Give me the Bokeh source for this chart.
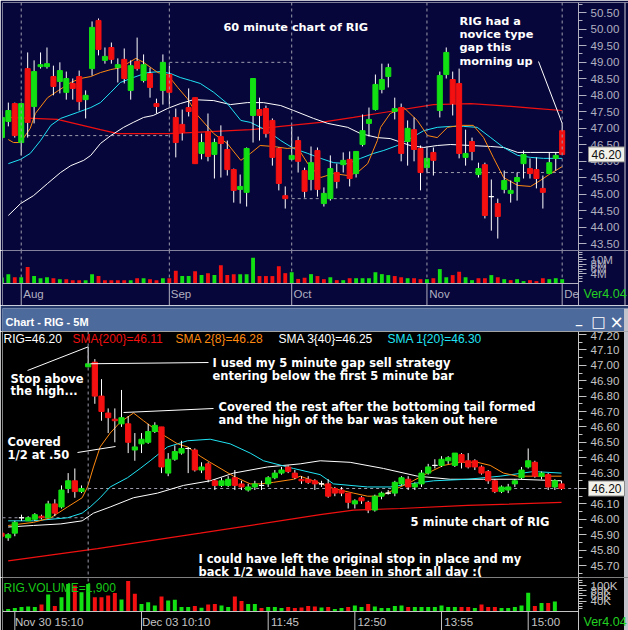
import numpy as np
from bokeh.plotting import figure
from bokeh.layouts import column
from bokeh.models import (ColumnDataSource, Range1d, FixedTicker, Span, Label, Arrow,
                          PrintfTickFormatter, BoxAnnotation)
from bokeh.embed import file_html
from bokeh.resources import INLINE

# ================= DATA: top chart (daily bars, 27 Jul .. 3 Dec) =================
d_open = [46.71, 47.20, 47.74, 46.56, 48.80, 47.65, 48.86, 48.86, 48.56, 48.41,
          48.08, 48.35, 48.56, 47.86, 48.80, 50.26, 49.05, 49.44, 48.83, 49.08,
          48.14, 49.02, 48.44, 48.65, 47.74, 48.14, 48.62, 47.32, 47.11, 47.62,
          47.92, 46.23, 46.89, 46.20, 46.74, 46.35, 45.74, 45.14, 45.05, 47.38,
          47.56, 47.59, 47.23, 46.38, 44.95, 46.05, 46.62, 45.71, 45.44, 46.32,
          44.71, 44.86, 45.65, 45.89, 46.05, 45.62, 46.50, 47.14, 47.56, 48.17,
          48.56, 47.50, 47.62, 46.59, 46.95, 46.38, 45.80, 46.26, 47.53, 48.62,
          48.47, 48.35, 46.11, 46.59, 45.59, 45.89, 44.92, 44.71, 45.14, 45.02,
          45.38, 45.92, 45.77, 45.74, 45.17, 45.62, 46.08, 46.92]
d_high = [47.53, 47.77, 47.77, 47.77, 49.29, 49.05, 49.29, 49.44, 48.89, 48.99,
          48.71, 48.50, 48.74, 48.14, 50.23, 50.32, 49.44, 49.59, 49.11, 49.41,
          49.05, 49.74, 49.23, 48.83, 47.89, 49.23, 48.89, 47.59, 47.56, 48.20,
          47.92, 46.83, 47.44, 46.68, 47.08, 46.62, 45.77, 45.59, 46.41, 48.50,
          47.92, 47.68, 47.29, 46.41, 45.23, 47.05, 46.74, 45.80, 46.44, 46.41,
          45.20, 46.17, 45.92, 46.26, 46.29, 46.29, 47.41, 47.62, 48.62, 48.95,
          48.95, 47.92, 47.74, 47.23, 47.32, 46.47, 46.44, 46.41, 48.71, 49.44,
          48.71, 48.80, 46.95, 46.71, 45.95, 45.95, 45.44, 44.86, 45.71, 45.41,
          45.65, 46.32, 46.08, 46.11, 45.56, 46.26, 46.26, 47.14]
d_low = [46.62, 47.05, 46.71, 46.17, 46.71, 47.14, 48.80, 48.80, 47.99, 48.05,
         47.86, 47.86, 47.53, 47.29, 48.59, 49.20, 48.95, 48.95, 48.38, 48.35,
         47.86, 48.74, 48.38, 47.92, 47.44, 47.71, 47.71, 46.11, 46.62, 47.35,
         45.92, 46.05, 45.99, 45.47, 45.50, 45.56, 44.74, 44.71, 44.62, 46.56,
         46.62, 46.71, 45.86, 45.11, 44.56, 46.02, 45.65, 44.89, 45.11, 44.92,
         44.62, 44.80, 45.17, 45.65, 45.23, 45.50, 46.44, 46.74, 47.53, 48.05,
         48.23, 47.26, 45.99, 45.86, 45.99, 45.11, 45.65, 45.56, 47.32, 48.50,
         47.38, 46.08, 45.86, 46.02, 45.50, 44.26, 43.89, 43.65, 45.02, 44.74,
         44.80, 45.47, 45.47, 45.17, 44.56, 45.62, 45.71, 46.20]
d_close = [47.32, 47.53, 46.77, 47.74, 47.17, 48.71, 48.92, 48.95, 48.26, 48.74,
           48.50, 48.20, 47.80, 47.99, 50.05, 49.38, 49.17, 49.08, 48.92, 48.50,
           48.89, 48.80, 48.92, 48.23, 47.65, 48.99, 48.08, 46.56, 46.86, 47.50,
           45.92, 46.56, 46.14, 46.56, 46.53, 45.74, 45.11, 45.23, 46.38, 48.50,
           47.38, 46.83, 46.11, 45.32, 44.86, 46.17, 45.99, 45.08, 45.95, 45.14,
           45.02, 45.77, 45.38, 46.02, 45.47, 46.29, 46.92, 47.26, 48.32, 48.47,
           48.83, 47.59, 46.23, 46.99, 46.35, 45.65, 46.08, 46.02, 48.59, 49.29,
           47.74, 46.23, 46.23, 46.29, 45.77, 44.35, 44.92, 44.32, 45.41, 45.11,
           45.50, 46.20, 45.62, 45.47, 45.05, 45.95, 46.17, 46.20]
d_vol_m = [2.5, 3.9, 2.6, 2.6, 6.9, 3.1, 2.2, 2.6, 2.2, 1.8,
           1.8, 1.4, 1.4, 1.4, 3.9, 3.1, 1.4, 1.4, 1.4, 1.4,
           1.4, 2.2, 2.2, 1.8, 1.4, 2.2, 2.2, 5.3, 3.1, 3.1,
           5.1, 3.5, 4.3, 3.5, 7.6, 3.5, 3.9, 3.9, 3.9, 10.7,
           3.1, 3.1, 3.1, 7.2, 4.3, 4.7, 1.9, 2.4, 3.9, 3.1,
           1.8, 2.6, 1.4, 1.4, 2.2, 2.2, 2.2, 2.2, 4.7, 3.9,
           3.5, 3.1, 2.6, 2.2, 2.2, 1.8, 1.8, 2.2, 6.0, 2.6,
           3.5, 4.9, 2.6, 1.4, 2.2, 2.2, 3.5, 2.6, 1.8, 1.4,
           1.8, 1.0, 1.4, 1.0, 2.2, 1.8, 2.2, 1.8]
month_labels = ["Aug", "Sep", "Oct", "Nov", "De"]
month_start = [3, 26, 45, 66, 87]

d_sma8_x = [1.0, 1.8, 2.9, 4.4, 5.2, 7.1, 8.8, 10.7, 12.2, 13.8, 15.3, 16.9, 18.4, 20.8,
            22.0, 24.2, 25.7, 27.3, 28.8, 30.4, 32.9, 35.0, 37.1, 38.6, 40.1, 42.2, 44.3,
            45.9, 47.5, 49.5, 51.5, 53.7, 55.2, 56.8, 58.3, 58.8, 60.3, 62.4, 64.5, 66.1,
            67.6, 69.2, 71.2, 73.2, 74.8, 76.3, 77.9, 80.1, 82.1, 83.6, 85.2, 87.0]
d_sma8 = [46.65, 46.56, 46.56, 46.99, 47.44, 47.92, 48.14, 48.38, 48.50, 48.56, 48.68,
          48.77, 48.83, 49.11, 48.99, 48.68, 48.62, 48.23, 47.89, 47.38, 46.83, 46.53,
          46.02, 46.23, 46.47, 46.44, 46.38, 46.41, 45.92, 45.50, 45.62, 45.56, 45.65,
          45.92, 46.62, 47.02, 47.44, 47.62, 47.23, 46.77, 46.71, 47.02, 47.08, 47.08,
          46.71, 46.11, 45.50, 45.26, 45.23, 45.41, 45.62, 45.83]
d_sma20_x = [1.0, 2.9, 4.4, 6.0, 7.6, 9.1, 11.7, 13.8, 15.3, 16.9, 18.4, 20.4, 22.6, 24.6,
             26.2, 27.7, 29.3, 30.8, 32.9, 35.0, 37.1, 38.6, 41.2, 43.3, 45.3, 47.5, 49.5,
             51.5, 53.7, 55.7, 57.7, 59.3, 61.4, 63.4, 65.5, 67.6, 69.7, 71.7, 73.8, 75.9,
             77.9, 80.1, 82.1, 84.1, 87.0]
d_sma20 = [45.92, 46.05, 46.23, 46.62, 47.08, 47.29, 47.47, 47.62, 47.77, 48.08, 48.38,
           48.53, 48.68, 48.71, 48.65, 48.53, 48.44, 48.35, 48.08, 47.74, 47.23, 47.17,
           46.92, 46.62, 46.38, 46.23, 46.08, 45.95, 45.92, 46.08, 46.23, 46.32, 46.47,
           46.68, 46.92, 47.02, 47.05, 47.05, 47.02, 46.71, 46.41, 46.17, 46.11, 46.08, 46.08]
d_sma40_x = [1.0, 2.9, 4.9, 7.1, 9.1, 10.7, 12.7, 13.8, 15.3, 16.9, 18.9, 20.4, 22.0, 23.5,
             25.7, 27.7, 29.8, 32.9, 35.5, 38.1, 40.6, 43.3, 45.3, 48.4, 50.6, 53.7, 55.7,
             58.3, 60.3, 63.4, 65.5, 67.6, 69.7, 72.8, 75.9, 77.9, 80.1, 82.1, 87.0]
d_sma40 = [44.35, 44.71, 44.95, 45.32, 45.65, 45.86, 46.02, 46.17, 46.53, 46.77, 47.02,
           47.17, 47.32, 47.38, 47.59, 47.74, 47.86, 47.83, 47.71, 47.77, 47.77, 47.68,
           47.53, 47.29, 47.14, 47.02, 46.83, 46.71, 46.68, 46.47, 46.41, 46.47, 46.50,
           46.47, 46.44, 46.41, 46.26, 46.26, 46.26]
d_sma200_x = [1.0, 8.6, 15.3, 18.0, 25.9, 32.4, 38.6, 43.3, 49.5, 54.6, 59.3, 67.0, 72.8,
              77.4, 83.2, 87.0]
d_sma200 = [47.32, 47.26, 46.95, 46.83, 46.83, 46.89, 46.95, 47.05, 47.17, 47.32, 47.47,
            47.71, 47.74, 47.68, 47.59, 47.53]

# ================= DATA: bottom chart (5 minute bars, 30 Nov 15:00 .. 3 Dec 15:25) ====
m_open = [45.91, 45.88, 45.91, 46.01, 45.99, 46.00, 46.02, 46.01, 46.10, 46.08,
          46.20, 46.25, 46.18, 46.99, 47.02, 46.80, 46.69, 46.65, 46.62, 46.62,
          46.45, 46.49, 46.50, 46.57, 46.60, 46.30, 46.39, 46.43, 46.46, 46.45,
          46.32, 46.36, 46.25, 46.22, 46.22, 46.27, 46.23, 46.19, 46.21, 46.22,
          46.23, 46.27, 46.30, 46.34, 46.30, 46.26, 46.26, 46.25, 46.23, 46.23,
          46.20, 46.19, 46.17, 46.10, 46.14, 46.11, 46.06, 46.15, 46.17, 46.17,
          46.23, 46.26, 46.21, 46.23, 46.30, 46.35, 46.35, 46.38, 46.35, 46.42,
          46.38, 46.38, 46.34, 46.31, 46.25, 46.18, 46.19, 46.23, 46.27, 46.34,
          46.37, 46.28, 46.29, 46.21, 46.23]
m_high = [45.92, 45.91, 45.99, 46.03, 46.02, 46.04, 46.03, 46.12, 46.13, 46.22,
          46.30, 46.33, 46.22, 47.12, 47.04, 46.91, 46.72, 46.72, 46.84, 46.67,
          46.56, 46.56, 46.62, 46.63, 46.60, 46.43, 46.48, 46.51, 46.47, 46.46,
          46.37, 46.37, 46.26, 46.27, 46.28, 46.32, 46.25, 46.23, 46.25, 46.25,
          46.28, 46.32, 46.34, 46.35, 46.32, 46.28, 46.28, 46.26, 46.25, 46.26,
          46.21, 46.21, 46.17, 46.13, 46.15, 46.12, 46.16, 46.18, 46.19, 46.25,
          46.28, 46.28, 46.24, 46.32, 46.36, 46.39, 46.41, 46.41, 46.43, 46.43,
          46.43, 46.39, 46.35, 46.32, 46.26, 46.22, 46.23, 46.26, 46.34, 46.46,
          46.38, 46.31, 46.30, 46.26, 46.25]
m_low = [45.88, 45.86, 45.89, 45.99, 45.99, 45.99, 46.00, 46.01, 46.02, 46.07,
         46.17, 46.14, 46.17, 46.99, 46.75, 46.64, 46.56, 46.50, 46.60, 46.43,
         46.38, 46.43, 46.49, 46.56, 46.30, 46.28, 46.38, 46.42, 46.30, 46.31,
         46.30, 46.24, 46.19, 46.21, 46.21, 46.19, 46.19, 46.18, 46.19, 46.19,
         46.21, 46.26, 46.29, 46.30, 46.26, 46.23, 46.23, 46.19, 46.21, 46.14,
         46.15, 46.15, 46.07, 46.07, 46.10, 46.04, 46.05, 46.13, 46.16, 46.15,
         46.22, 46.19, 46.19, 46.21, 46.29, 46.33, 46.34, 46.36, 46.34, 46.33,
         46.33, 46.32, 46.29, 46.23, 46.17, 46.17, 46.17, 46.21, 46.26, 46.33,
         46.27, 46.26, 46.19, 46.19, 46.19]
m_close = [45.89, 45.90, 45.98, 46.01, 46.01, 46.03, 46.01, 46.10, 46.04, 46.19,
           46.25, 46.18, 46.20, 47.01, 46.80, 46.70, 46.66, 46.64, 46.66, 46.50,
           46.47, 46.52, 46.57, 46.61, 46.34, 46.39, 46.44, 46.46, 46.46, 46.32,
           46.34, 46.26, 46.22, 46.25, 46.26, 46.22, 46.21, 46.21, 46.23, 46.22,
           46.27, 46.30, 46.32, 46.31, 46.27, 46.25, 46.24, 46.23, 46.23, 46.15,
           46.17, 46.17, 46.11, 46.12, 46.12, 46.06, 46.15, 46.17, 46.17, 46.24,
           46.27, 46.21, 46.23, 46.30, 46.34, 46.35, 46.39, 46.40, 46.43, 46.37,
           46.34, 46.34, 46.30, 46.25, 46.18, 46.21, 46.21, 46.25, 46.32, 46.38,
           46.28, 46.30, 46.21, 46.25, 46.20]
m_vol_k = [8, 10, 13, 17, 19, 17, 27, 65, 21, 55,
           106, 100, 74, 106, 55, 55, 62, 71, 46, 117,
           68, 29, 36, 23, 58, 42, 45, 17, 17, 21,
           14, 27, 29, 23, 17, 58, 40, 29, 29, 13,
           17, 17, 13, 17, 13, 15, 21, 19, 15, 17,
           10, 13, 17, 23, 17, 29, 19, 13, 13, 21,
           23, 17, 17, 17, 17, 17, 23, 17, 17, 17,
           17, 13, 27, 17, 17, 13, 13, 17, 23, 72,
           21, 33, 33, 38, 1.9]
time_labels = ["Nov 30 15:10", "Dec 03 10:10", "11:45", "12:50", "13:55", "15:00"]
time_idx = [2, 21, 40, 53, 66, 79]
day_start = 13
prev_day_close = 46.01

m_sma8_x = [1.0, 4.8, 7.4, 9.9, 12.1, 12.9, 13.8, 14.8, 16.3, 17.8, 19.8, 21.3, 23.8, 26.4,
            27.9, 29.8, 31.3, 34.8, 37.3, 38.8, 40.8, 43.8, 44.8, 47.4, 49.8, 52.8, 54.9,
            56.8, 58.8, 61.3, 63.9, 66.3, 68.8, 71.4, 73.3, 75.3, 77.4, 79.8, 84.0]
m_sma8 = [45.96, 45.98, 46.01, 46.08, 46.14, 46.21, 46.34, 46.47, 46.56, 46.63, 46.69,
          46.64, 46.56, 46.49, 46.47, 46.41, 46.37, 46.28, 46.23, 46.23, 46.24, 46.26,
          46.28, 46.24, 46.20, 46.17, 46.15, 46.15, 46.19, 46.24, 46.30, 46.35, 46.37,
          46.37, 46.35, 46.30, 46.28, 46.28, 46.28]
m_sma20_x = [1.0, 4.8, 9.9, 12.1, 13.3, 14.8, 16.3, 18.9, 20.8, 22.3, 24.9, 27.9, 31.3,
             34.3, 37.3, 39.3, 43.8, 47.8, 49.8, 54.9, 58.3, 61.3, 64.8, 69.9, 74.8, 79.8, 84.0]
m_sma20 = [45.99, 45.99, 46.01, 46.04, 46.08, 46.14, 46.21, 46.27, 46.33, 46.38, 46.47,
           46.51, 46.52, 46.49, 46.43, 46.38, 46.33, 46.29, 46.23, 46.21, 46.21, 46.23,
           46.25, 46.26, 46.28, 46.31, 46.30]
m_sma40_x = [1.0, 4.8, 8.9, 12.1, 13.8, 16.3, 19.8, 23.4, 27.3, 31.3, 34.8, 39.9, 44.8,
             47.8, 52.3, 57.3, 62.4, 67.3, 72.3, 77.4, 84.0]
m_sma40 = [45.95, 45.96, 45.97, 45.99, 46.04, 46.08, 46.14, 46.17, 46.22, 46.25, 46.30,
           46.34, 46.36, 46.38, 46.37, 46.33, 46.28, 46.26, 46.26, 46.26, 46.25]
m_sma200_x = [1.0, 14.4, 29.8, 47.8, 52.8, 59.8, 69.9, 84.0]
m_sma200 = [45.73, 45.81, 45.91, 46.03, 46.06, 46.07, 46.09, 46.11]

# ================= STYLE =================
TOP_BG = "#07063a"
BOT_BG = "#000000"
UP = "#12e012"
DN = "#f41010"
GRID = "#9c9cac"
AX_TOP = "#b0b0c0"
AX_BOT = "#c4c4c4"
C_ORANGE = "#ff8a10"
C_CYAN = "#20e4f4"
C_RED = "#f01010"
C_WHITE = "#ffffff"
TXT_FONT = "DejaVu Sans"
AX_FONT = "Liberation Sans"

# pixel -> data helpers (layout only)
def tx(px): return (px - 1.4) / 6.44
def ty(py): return 50.864 - py / 33.0
def bx(px): return (px - 1.0) / 6.667
def by(py): return 47.20 - (py - 334.0) / 154.0
def tv(py): return (283 - py) * 10.0 / 24.0     # top volume, millions
def bv(py): return (611 - py) * 100.0 / 26.0    # bottom volume, thousands

TOP_X = Range1d(tx(2), tx(628))
BOT_X = Range1d(bx(2), bx(628))
TOP_AX = tx(578)
BOT_AX = bx(578)


def make_fig(height, x_range, y_range, bg, axis_x, top=0, xaxis=False):
    p = figure(width=628, height=height, x_range=x_range, y_range=y_range,
               toolbar_location=None, output_backend="svg",
               x_axis_location="below" if xaxis else None, y_axis_location="right",
               background_fill_color=bg, border_fill_color=bg, outline_line_color=None,
               min_border_left=2, min_border_right=0, min_border_top=top,
               min_border_bottom=0)
    p.xgrid.visible = False
    p.ygrid.visible = False
    p.yaxis[0].fixed_location = axis_x
    if xaxis:
        p.xaxis[0].fixed_location = 0
        p.xaxis[0].bounds = (x_range.start, axis_x)
    return p


def style_yaxis(ax, color, ticks, minor, fmt):
    ax.ticker = FixedTicker(ticks=ticks, minor_ticks=minor)
    ax.formatter = PrintfTickFormatter(format=fmt)
    ax.axis_line_color = color
    ax.major_tick_line_color = color
    ax.minor_tick_line_color = color
    ax.major_tick_out = 8
    ax.major_tick_in = 0
    ax.minor_tick_out = 4
    ax.minor_tick_in = 0
    ax.major_label_text_color = color
    ax.major_label_text_font = AX_FONT
    ax.major_label_text_font_size = "11.5px"
    ax.major_label_standoff = 4


def style_xaxis(p, color, seps, labels, spacing, dxs, y_bottom):
    ax = p.xaxis[0]
    pos = [round(s + dx / spacing, 3) for s, dx in zip(seps, dxs)]
    ax.ticker = FixedTicker(ticks=pos, minor_ticks=[])
    ax.major_label_overrides = {p_: l for p_, l in zip(pos, labels)}
    ax.axis_line_color = color
    ax.major_tick_line_color = None
    ax.minor_tick_line_color = None
    ax.major_tick_out = 0
    ax.major_tick_in = 0
    ax.minor_tick_out = 0
    ax.minor_tick_in = 0
    ax.major_label_text_color = color
    ax.major_label_text_font = AX_FONT
    ax.major_label_text_font_size = "11.5px"
    ax.major_label_standoff = 4
    # solid separator marks below the time axis
    p.segment(x0=list(seps), y0=[0] * len(seps), x1=list(seps), y1=[y_bottom] * len(seps),
              line_color=color, line_width=1)


def add_candles(p, o, h, l, c, w):
    o, h, l, c = map(np.asarray, (o, h, l, c))
    x = np.arange(len(o))
    col = [UP if cc > oo else (DN if cc < oo else C_WHITE) for oo, cc in zip(o, c)]
    src = ColumnDataSource(dict(x=x, h=h, l=l, top=np.maximum(o, c),
                                bot=np.minimum(o, c), col=col))
    p.segment(x0="x", y0="l", x1="x", y1="h", source=src, line_color=C_WHITE, line_width=1)
    p.vbar(x="x", width=w, top="top", bottom="bot", source=src,
           fill_color="col", line_color="col", line_width=1)


def add_volume(p, c, v, w):
    prev = [c[0]] + list(c[:-1])
    col = [UP if cc >= pp else DN for cc, pp in zip(c, prev)]
    p.vbar(x=list(range(len(v))), width=w, top=v, bottom=0, fill_color=col, line_color=None)


def text(p, x, y, s, color=C_WHITE, size="11.5px", font=TXT_FONT, bold=True, align="left",
         baseline="middle"):
    p.add_layout(Label(x=x, y=y, text=s, text_color=color, text_font=font,
                       text_font_size=size, text_font_style="bold" if bold else "normal",
                       text_baseline=baseline, text_align=align))


def price_tag(p, x, y, s):
    p.add_layout(Label(x=x, y=y, text=s, text_color="#101010", text_font=AX_FONT,
                       text_font_size="12px", text_baseline="middle", text_align="left",
                       background_fill_color="#f2f2ea", border_line_color="#8a8a8a",
                       padding=3))


def pointer(p, x0, y0, x1, y1):
    p.add_layout(Arrow(end=None, x_start=x0, y_start=y0, x_end=x1, y_end=y1,
                       line_color=C_WHITE, line_width=1))


# ================= TOP: price =================
p1 = make_fig(250, TOP_X, Range1d(ty(250), ty(2)), TOP_BG, TOP_AX, top=2)
style_yaxis(p1.yaxis[0], AX_TOP, list(np.round(np.arange(43.5, 50.51, 0.5), 2)),
            list(np.round(np.arange(43.25, 50.9, 0.25), 2)), "%.2f")
for ms in month_start:
    p1.add_layout(Span(location=ms, dimension="height", line_color=GRID,
                       line_dash="3 3", line_width=1))
seg_x0 = month_start[:-1]
seg_x1 = month_start[1:]
seg_y = [d_close[m - 1] for m in seg_x0]
p1.segment(x0=seg_x0, y0=seg_y, x1=seg_x1, y1=seg_y, line_color=GRID,
           line_dash="3 3", line_width=1)
p1.line(d_sma200_x, d_sma200, line_color=C_RED, line_width=1.2)
p1.line(d_sma40_x, d_sma40, line_color=C_WHITE, line_width=1)
p1.line(d_sma20_x, d_sma20, line_color=C_CYAN, line_width=1)
p1.line(d_sma8_x, d_sma8, line_color=C_ORANGE, line_width=1)
add_candles(p1, d_open, d_high, d_low, d_close, 0.78)
p1.add_layout(Span(location=TOP_X.start, dimension="height", line_color="#b8b8c8"))
p1.add_layout(Span(location=ty(2), dimension="width", line_color="#b8b8c8"))
p1.add_layout(Span(location=tx(624.5), dimension="height", line_color="#c8c8d0"))

text(p1, tx(223), ty(27), "60 minute chart of RIG", size="11.3px")
for k, s in enumerate(["RIG had a", "novice type", "gap this", "morning up"]):
    text(p1, tx(459), ty(20.7 + 13.3 * k), s, size="11.3px")
pointer(p1, tx(538), ty(61), len(d_close) - 1, d_high[-1])
price_tag(p1, tx(588), d_close[-1], f"{d_close[-1]:.2f}")

# ================= TOP: volume =================
p2 = make_fig(55, TOP_X, Range1d(tv(305), tv(250)), TOP_BG, TOP_AX, xaxis=True)
style_yaxis(p2.yaxis[0], AX_TOP, [4, 6, 8, 10], list(range(1, 14)), "%dM")
style_xaxis(p2, AX_TOP, month_start, month_labels, 6.44,
            [12.3, 11.7, 10.8, 12.6, 9.4], tv(306))
p2.segment(x0=month_start, y0=[0] * len(month_start), x1=month_start,
           y1=[tv(250)] * len(month_start), line_color=GRID, line_dash="3 3", line_width=1)
add_volume(p2, d_close, d_vol_m, 0.6)
p2.add_layout(Span(location=TOP_X.start, dimension="height", line_color="#b8b8c8"))
p2.add_layout(Span(location=tx(624.5), dimension="height", line_color="#c8c8d0"))
text(p2, tx(583), tv(293), "Ver4.04", color="#22d022", size="12.5px", font=AX_FONT, bold=False)

# ================= title bar =================
p3 = figure(width=628, height=26, x_range=Range1d(0, 628), y_range=Range1d(0, 23),
            x_axis_location=None, y_axis_location=None, toolbar_location=None,
            output_backend="svg", min_border_left=0, min_border_right=0,
            min_border_top=3, min_border_bottom=0, background_fill_color="#4d6a9c",
            border_fill_color="#24396a", outline_line_color=None)
p3.xgrid.visible = False
p3.ygrid.visible = False
p3.add_layout(BoxAnnotation(left=623.5, fill_color="#c4c4cc", fill_alpha=1, line_color=None))
text(p3, 3, 10, "Chart - RIG - 5M", size="11px", font=AX_FONT, bold=True)
text(p3, 575, 13, "_", size="13px", font=TXT_FONT, bold=True, baseline="alphabetic")
text(p3, 591, 10, "\u25a1", size="15px", font=TXT_FONT, bold=False)
text(p3, 609, 10, "\u00d7", size="17px", font=TXT_FONT, bold=False)

# ================= BOTTOM: price =================
p4 = make_fig(246, BOT_X, Range1d(by(577), by(331)), BOT_BG, BOT_AX)
style_yaxis(p4.yaxis[0], AX_BOT, list(np.round(np.arange(45.7, 47.21, 0.1), 2)),
            list(np.round(np.arange(45.65, 47.26, 0.05), 2)), "%.2f")
p4.add_layout(Span(location=day_start, dimension="height", line_color=GRID,
                   line_dash="3 3", line_width=1))
p4.segment(x0=[BOT_X.start, day_start], y0=[prev_day_close, m_close[day_start - 1]],
           x1=[day_start, BOT_AX], y1=[prev_day_close, m_close[day_start - 1]],
           line_color=GRID, line_dash="3 3", line_width=1)
p4.line(m_sma200_x, m_sma200, line_color=C_RED, line_width=1.2)
p4.line(m_sma40_x, m_sma40, line_color=C_WHITE, line_width=1)
p4.line(m_sma20_x, m_sma20, line_color=C_CYAN, line_width=1)
p4.line(m_sma8_x, m_sma8, line_color=C_ORANGE, line_width=1)
add_candles(p4, m_open, m_high, m_low, m_close, 0.78)
p4.add_layout(Span(location=BOT_X.start, dimension="height", line_color="#c8c8c8"))
p4.add_layout(Span(location=by(331), dimension="width", line_color="#c8c8c8"))
p4.add_layout(BoxAnnotation(left=bx(623.5), fill_color="#c4c4cc", fill_alpha=1, line_color=None))

legend_items = [(f"RIG={m_close[-1]:.2f}", C_WHITE, 3),
                (f"SMA{{200}}={m_sma200[-1]:.2f}", C_RED, 72),
                (f"SMA 2{{8}}={m_sma8[-1]:.2f}", C_ORANGE, 175),
                (f"SMA 3{{40}}={m_sma40[-1]:.2f}", C_WHITE, 278),
                (f"SMA 1{{20}}={m_sma20[-1]:.2f}", C_CYAN, 387)]
for s, c, px in legend_items:
    text(p4, bx(px), by(338), s, color=c, size="12px", font=AX_FONT, bold=False)

notes = [("I used my 5 minute gap sell strategy", 212, 362),
         ("entering below the first 5 minute bar", 212, 375),
         ("Stop above", 10, 378), ("the high...", 10, 390),
         ("Covered the rest after the bottoming tail formed", 218, 406),
         ("and the high of the bar was taken out here", 218, 419),
         ("Covered", 7, 441), ("1/2 at .50", 7, 454),
         ("5 minute chart of RIG", 410, 521),
         ("I could have left the original stop in place and my", 198, 558),
         ("back 1/2 would have been in short all day :(", 198, 571)]
for s, px, py in notes:
    text(p4, bx(px), by(py), s)
pointer(p4, bx(27), by(370), day_start, m_high[day_start])
pointer(p4, bx(90), m_close[day_start], bx(208), by(362))
pointer(p4, bx(123), by(412), bx(213), by(408))
pointer(p4, bx(77), by(452), bx(115), by(446))
price_tag(p4, bx(588), m_close[-1], f"{m_close[-1]:.2f}")

# ================= BOTTOM: volume =================
p5 = make_fig(53, BOT_X, Range1d(bv(630), bv(577)), BOT_BG, BOT_AX, xaxis=True)
style_yaxis(p5.yaxis[0], AX_BOT, [40, 60, 80, 100], list(range(10, 131, 10)), "%dK")
style_xaxis(p5, AX_BOT, time_idx, time_labels, 6.667,
            [34.3, 34.6, 16.8, 17.0, 17.2, 17.5], bv(631))
p5.segment(x0=[day_start], y0=[0], x1=[day_start], y1=[bv(577)], line_color=GRID,
           line_dash="3 3", line_width=1)
add_volume(p5, m_close, m_vol_k, 0.6)
p5.add_layout(Span(location=BOT_X.start, dimension="height", line_color="#c8c8c8"))
p5.add_layout(BoxAnnotation(left=bx(623.5), fill_color="#c4c4cc", fill_alpha=1, line_color=None))
text(p5, bx(3), bv(587), f"RIG.VOLUME={int(round(m_vol_k[-1] * 1000)):,}",
     color="#18c818", size="12px", font=AX_FONT, bold=False)
text(p5, bx(583), bv(621), "Ver4.04", color="#22d022", size="12.5px", font=AX_FONT, bold=False)

layout = column(p1, p2, p3, p4, p5, spacing=0)
open("out.html", "w").write(file_html(layout, INLINE, title="RIG"))
